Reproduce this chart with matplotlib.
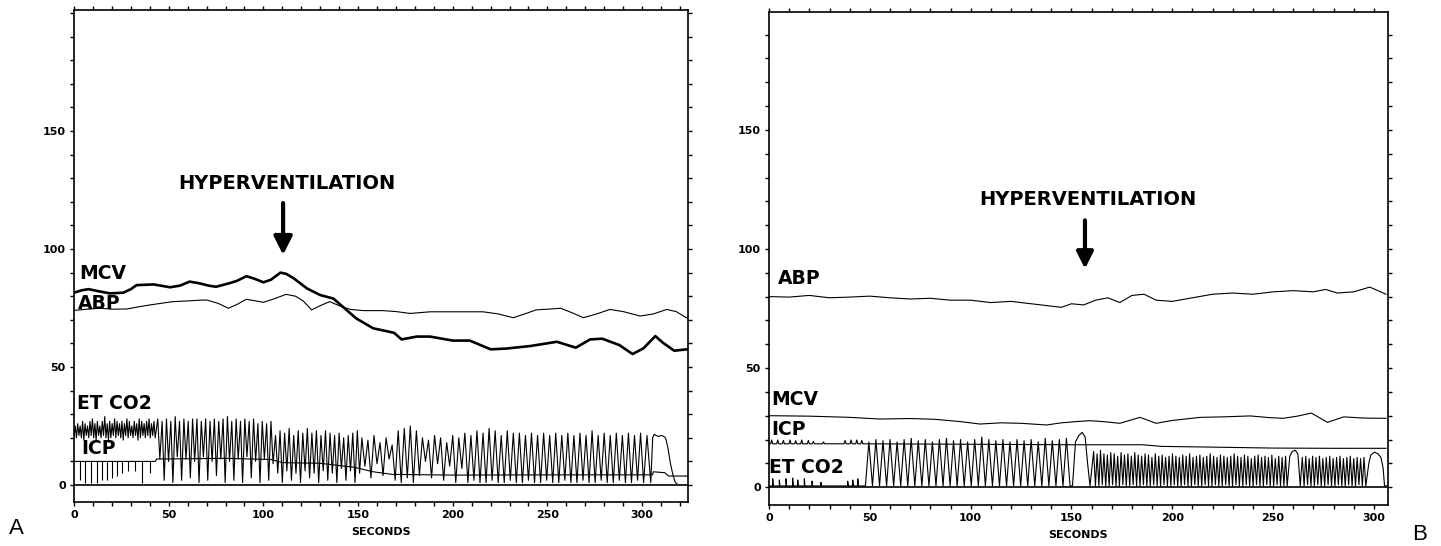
import matplotlib
matplotlib.use("Agg")
import matplotlib.pyplot as plt
from matplotlib.ticker import MultipleLocator

# ============================================================
# Panel A data (seconds, value)
# ============================================================
mcv_a_t = [0, 4, 7.6, 13.7, 19, 26, 30, 33, 42, 50.7, 56, 61, 66, 71, 75, 82, 86, 91, 95,
           100, 104, 109, 112, 116, 123, 130, 137, 142, 149, 158, 169, 173, 181, 188, 200,
           209, 220, 228, 241, 255, 265, 272.6, 279, 288, 295, 300.7, 307, 311, 317, 323.6]
mcv_a_v = [81.5, 82.5, 83, 82, 81.2, 81.5, 83, 84.7, 85, 83.8, 84.5, 86.2, 85.5, 84.5, 84,
           85.5, 86.5, 88.5, 87.5, 85.9, 87, 90, 89.5, 87.6, 83.3, 80.5, 79, 75.5, 70.6, 66.4,
           64.5, 61.7, 62.9, 62.9, 61.2, 61.2, 57.5, 57.8, 58.9, 60.7, 58.2, 61.7, 62, 59.3,
           55.5, 57.9, 63.1, 60.3, 56.9, 57.5]

abp_a_t = [0, 7, 14, 20, 28, 34, 40, 46, 52, 60, 66, 70, 76, 81.5, 86, 91, 96, 100, 106,
           112, 117, 121, 125.5, 130, 135, 140, 146, 153, 163, 170, 177.5, 188, 202, 216,
           224, 232, 238, 244, 250, 257, 263, 269, 276, 283, 290, 299, 306, 313, 318, 324]
abp_a_v = [74, 74.5, 74.9, 74.5, 74.6, 75.5, 76.3, 77, 77.7, 78, 78.3, 78.4, 77, 74.9, 76.5,
           78.7, 78, 77.4, 79, 80.8, 80, 78, 74.2, 76, 77.7, 76, 74.4, 73.9, 73.9, 73.5, 72.7,
           73.4, 73.4, 73.4, 72.5, 70.9, 72.5, 74.2, 74.5, 74.9, 73, 70.9, 72.5, 74.4, 73.5,
           71.6, 72.5, 74.4, 73.5, 70.6]

icp_a_t = [0, 43, 43.5, 80, 104, 110, 130, 148, 158, 168, 200, 250, 300, 305.5, 306, 312,
           314, 324]
icp_a_v = [10, 10, 11, 11.3, 10.8, 9.5, 9.2, 7.5, 5.6, 4.5, 4.2, 4.3, 4.3, 4.3, 5.6, 5.2,
           3.8, 3.8]
icp_a_spike_t = [3.2, 5.8, 8.8, 12.0, 14.6, 17.2, 19.9, 22.5, 25.2, 28.7, 32.2, 35.8, 40.1]
icp_a_spike_v = [2, 1, 1, 1, 2, 2, 3, 4, 5, 6, 6, 1, 5]

etco2_a = [
    (0.0, 21), (0.6, 25), (1.25, 20), (1.9, 26), (2.55, 21), (3.2, 25), (3.85, 20),
    (4.5, 27), (5.15, 19), (5.8, 26), (6.45, 21), (7.1, 25), (7.75, 20), (8.4, 27),
    (9.05, 21), (9.7, 28), (10.35, 20), (11.0, 26), (11.65, 19), (12.3, 27), (12.95, 21),
    (13.6, 25), (14.25, 20), (14.9, 27), (15.55, 21), (16.2, 29), (16.85, 20), (17.5, 26),
    (18.15, 19), (18.8, 27), (19.45, 20), (20.1, 26), (20.75, 21), (21.4, 28), (22.05, 20),
    (22.7, 27), (23.35, 21), (24.0, 26), (24.65, 20), (25.3, 27), (25.95, 19), (26.6, 26),
    (27.25, 21), (27.9, 28), (28.55, 20), (29.2, 27), (29.85, 21), (30.5, 25), (31.15, 20),
    (31.8, 27), (32.45, 21), (33.1, 26), (33.75, 19), (34.4, 28), (35.05, 20), (35.7, 27),
    (36.35, 21), (37.0, 26), (37.65, 20), (38.3, 27), (38.95, 21), (39.6, 28), (40.25, 20),
    (40.9, 26), (41.55, 21), (42.2, 27), (42.85, 20),
    (44.2, 28), (45.3, 11), (46.5, 27), (47.6, 2), (48.8, 28), (49.9, 10), (51.1, 27),
    (52.2, 1), (53.4, 29), (54.5, 12), (55.7, 27), (56.8, 2), (58.0, 28), (59.1, 11),
    (60.3, 27), (61.4, 3), (62.6, 28), (63.7, 10), (64.9, 28), (66.0, 1), (67.2, 27),
    (68.3, 12), (69.5, 28), (70.6, 2), (71.8, 27), (72.9, 10), (74.1, 28), (75.2, 4),
    (76.4, 27), (77.5, 11), (78.7, 28), (79.8, 1), (81.0, 29), (82.1, 10), (83.3, 27),
    (84.4, 2), (85.6, 28), (86.7, 11), (87.9, 27), (89.0, 1), (90.2, 28), (91.3, 12),
    (92.5, 27), (93.6, 3), (94.8, 28), (95.9, 10), (97.1, 26), (98.2, 1), (99.4, 27),
    (100.5, 11), (101.7, 26), (102.8, 2), (104.0, 27), (105.1, 9),
    (106.4, 21), (107.6, 5), (108.8, 23), (110.0, 1), (111.2, 22), (112.4, 6), (113.6, 24),
    (114.8, 2), (116.0, 21), (117.2, 5), (118.4, 23), (119.6, 1), (120.8, 22), (122.0, 6),
    (123.2, 24), (124.4, 3), (125.6, 22), (126.8, 5), (128.0, 23), (129.2, 1), (130.4, 21),
    (131.6, 6), (132.8, 23), (134.0, 2), (135.2, 22), (136.4, 5), (137.6, 21), (138.8, 1),
    (140.0, 22), (141.2, 7), (142.4, 20), (143.6, 2), (144.8, 21), (146.0, 6), (147.2, 22),
    (148.4, 1), (149.6, 23), (150.8, 5),
    (152.0, 20), (153.6, 8), (155.2, 19), (156.8, 3), (158.4, 21), (160.0, 9), (161.6, 18),
    (163.2, 4), (164.8, 20), (166.4, 11), (168.0, 17), (169.6, 2), (171.2, 23), (172.8, 1),
    (174.4, 24), (176.0, 3), (177.6, 25), (179.2, 1), (180.8, 23), (182.4, 4), (184.0, 20),
    (185.6, 10), (187.2, 19), (188.8, 3), (190.4, 21), (192.0, 9), (193.6, 20), (195.2, 2),
    (196.8, 18), (198.4, 8), (200.0, 21), (201.6, 1), (203.2, 20), (204.8, 7), (206.4, 22),
    (208.0, 1), (209.6, 21), (211.2, 2), (212.8, 23), (214.4, 1), (216.0, 22), (217.6, 1),
    (219.2, 24), (220.8, 2), (222.4, 23), (224.0, 1), (225.6, 21), (227.2, 1), (228.8, 23),
    (230.4, 2), (232.0, 22), (233.6, 1), (235.2, 22), (236.8, 1), (238.4, 21), (240.0, 2),
    (241.6, 22), (243.2, 1), (244.8, 21), (246.4, 1), (248.0, 22), (249.6, 2), (251.2, 21),
    (252.8, 1), (254.4, 22), (256.0, 1), (257.6, 21), (259.2, 2), (260.8, 22), (262.4, 1),
    (264.0, 21), (265.6, 1), (267.2, 22), (268.8, 2), (270.4, 21), (272.0, 1), (273.6, 23),
    (275.2, 1), (276.8, 21), (278.4, 2), (280.0, 22), (281.6, 1), (283.2, 21), (284.8, 1),
    (286.4, 22), (288.0, 2), (289.6, 21), (291.2, 1), (292.8, 22), (294.4, 1), (296.0, 21),
    (297.6, 2), (299.2, 22), (300.8, 1), (302.6, 21), (304.6, 1),
    (305.6, 20), (306.4, 21.5), (307.5, 21), (308.6, 20.5), (309.8, 21), (311.0, 20.8),
    (312.4, 20), (313.6, 16), (315.0, 9), (316.4, 4), (317.6, 1), (318.5, 0.5),
]

# ============================================================
# Panel B data
# ============================================================
abp_b_t = [0, 10, 20, 30, 40, 50, 60, 70, 80, 90, 100, 110, 120, 130, 140, 145, 150, 156,
           162, 168, 174, 180, 186, 192, 200, 210, 220, 230, 240, 250, 260, 270, 276, 282,
           290, 298, 306]
abp_b_v = [80, 79.8, 80.5, 79.5, 79.8, 80.2, 79.5, 79, 79.3, 78.5, 78.5, 77.5, 78, 77, 76,
           75.5, 77, 76.5, 78.5, 79.5, 77.5, 80.5, 81, 78.5, 78, 79.5, 81, 81.5, 81, 82, 82.5,
           82, 83, 81.5, 82, 84, 81]

mcv_b_t = [0, 20, 40, 55, 70, 82, 95, 104.6, 115, 125, 137.7, 145, 152, 159, 166, 174, 184,
           192, 200, 214, 225, 238.6, 248, 255, 262, 269, 277, 285, 295, 306]
mcv_b_v = [30, 29.8, 29.3, 28.6, 28.8, 28.5, 27.5, 26.5, 27, 26.8, 26.1, 27, 27.5, 27.9,
           27.5, 26.8, 29.3, 26.8, 28, 29.3, 29.5, 29.9, 29.2, 28.9, 29.8, 31.1, 27.2, 29.5,
           29, 28.9]

icp_b = [
    (0, 18.2), (0.8, 18.2), (1.3, 19.8), (1.8, 18.2), (3.8, 18.2), (4.3, 19.8), (4.8, 18.2),
    (6.6, 18.2), (7.1, 19.6), (7.6, 18.2), (9.9, 18.2), (10.4, 19.8), (10.9, 18.2),
    (12.7, 18.2), (13.2, 19.5), (13.7, 18.2), (15.7, 18.2), (16.2, 19.8), (16.7, 18.2),
    (19.0, 18.2), (19.5, 19.6), (20.0, 18.2), (21.5, 18.2), (22.0, 19.2), (22.5, 18.2),
    (26.5, 18.2), (27.0, 19.0), (27.5, 18.2), (37.2, 18.2), (37.7, 19.6), (38.2, 18.2),
    (40.2, 18.2), (40.7, 19.8), (41.2, 18.2), (43.0, 18.2), (43.5, 19.8), (44.0, 18.2),
    (45.5, 18.2), (46.0, 19.6), (46.5, 18.2),
    (100, 18.0), (150, 17.8), (185, 17.8), (195, 17.1), (220, 16.8), (250, 16.4),
    (280, 16.3), (306, 16.3),
]

etco2_b = [
    (0, 0.5), (1.8, 0.5), (1.8, 3.5), (2.1, 0.5), (5.1, 0.5), (5.1, 3), (5.4, 0.5),
    (8.4, 0.5), (8.4, 3.5), (8.7, 0.5), (11.7, 0.5), (11.7, 3.8), (12.0, 0.5),
    (14.2, 0.5), (14.2, 3), (14.5, 0.5), (17.5, 0.5), (17.5, 3.5), (17.8, 0.5),
    (21.3, 0.5), (21.3, 2.5), (21.6, 0.5), (25.7, 0.5), (25.7, 2), (26.0, 0.5),
    (39.0, 0.5), (39.0, 2.5), (39.3, 0.5), (41.5, 0.5), (41.5, 3), (41.8, 0.5),
    (44.0, 0.5), (44.0, 3.5), (44.3, 0.5), (47.8, 0.5),
    (49.5, 19), (51.3, 0.5), (53.0, 20), (54.8, 0.5), (56.5, 19.5), (58.3, 0.5), (60.0, 20),
    (61.8, 0.5), (63.5, 19), (65.3, 0.5), (67.0, 20), (68.8, 0.5), (70.5, 20.5), (72.3, 0.5),
    (74.0, 19.5), (75.8, 0.5), (77.5, 20), (79.3, 0.5), (81.0, 19), (82.8, 0.5), (84.5, 20),
    (86.3, 0.5), (88.0, 20.5), (89.8, 0.5), (91.5, 19.5), (93.3, 0.5), (95.0, 20),
    (96.8, 0.5), (98.5, 19), (100.3, 0.5), (102.0, 20), (103.8, 0.5), (105.5, 21),
    (107.3, 0.5), (109.0, 20), (110.8, 0.5), (112.5, 19.5), (114.3, 0.5), (116.0, 20),
    (117.8, 0.5), (119.5, 19), (121.3, 0.5), (123.0, 20), (124.8, 0.5), (126.5, 19.5),
    (128.3, 0.5), (130.0, 20), (131.8, 0.5), (133.5, 19), (135.3, 0.5), (137.0, 20.5),
    (138.8, 0.5), (140.5, 19.5), (142.3, 0.5), (144.0, 20), (145.8, 0.5), (147.5, 20.5),
    (149.3, 0.5), (150.5, 0.5),
    (152.0, 19), (153.5, 21.5), (155.3, 23), (156.8, 21), (158.0, 10), (159.2, 0.5),
    (161.0, 15), (161.9, 0.5), (162.7, 14), (163.6, 0.5), (164.4, 15.5), (165.3, 1),
    (166.1, 14), (167.0, 0.5), (167.8, 13.5), (168.7, 0.5), (169.5, 14.5), (170.4, 1),
    (171.2, 14), (172.1, 0.5), (172.9, 13), (173.8, 0.5), (174.6, 14.5), (175.5, 1),
    (176.3, 13.5), (177.2, 0.5), (178.0, 14), (178.9, 0.5), (179.7, 13), (180.6, 1),
    (181.4, 14.5), (182.3, 0.5), (183.1, 13.5), (184.0, 0.5), (184.8, 13), (185.7, 1),
    (186.5, 14), (187.4, 0.5), (188.2, 13.5), (189.1, 0.5), (189.9, 12.5), (190.8, 1),
    (191.6, 14), (192.5, 0.5), (193.3, 13), (194.2, 0.5), (195.0, 13.5), (195.9, 1),
    (196.7, 12.5), (197.6, 0.5), (198.4, 13), (199.3, 0.5), (200.1, 14), (201.0, 1),
    (201.8, 13), (202.7, 0.5), (203.5, 12.5), (204.4, 0.5), (205.2, 13.5), (206.1, 1),
    (206.9, 13), (207.8, 0.5), (208.6, 14), (209.5, 0.5), (210.3, 12.5), (211.2, 1),
    (212.0, 13), (212.9, 0.5), (213.7, 13.5), (214.6, 0.5), (215.4, 12.5), (216.3, 1),
    (217.1, 13), (218.0, 0.5), (218.8, 14), (219.7, 0.5), (220.5, 13), (221.4, 1),
    (222.2, 12.5), (223.1, 0.5), (223.9, 13.5), (224.8, 0.5), (225.6, 13), (226.5, 1),
    (227.3, 12.5), (228.2, 0.5), (229.0, 13), (229.9, 0.5), (230.7, 14), (231.6, 1),
    (232.4, 13), (233.3, 0.5), (234.1, 12.5), (235.0, 0.5), (235.8, 13.5), (236.7, 1),
    (237.5, 13), (238.4, 0.5), (239.2, 12), (240.1, 0.5), (240.9, 13), (241.8, 1),
    (242.6, 13.5), (243.5, 0.5), (244.3, 12.5), (245.2, 0.5), (246.0, 13), (246.9, 1),
    (247.7, 12.5), (248.6, 0.5), (249.4, 13.5), (250.3, 0.5), (251.1, 12), (252.0, 1),
    (252.8, 13), (253.7, 0.5), (254.5, 12.5), (255.4, 0.5), (256.2, 13), (257.0, 0.5),
    (258.3, 13), (259.5, 15), (261.0, 15.5), (262.3, 14), (263.5, 0.5),
    (264.5, 12.5), (265.4, 0.5), (266.2, 13), (267.1, 1), (267.9, 12), (268.8, 0.5),
    (269.6, 13), (270.5, 0.5), (271.3, 12.5), (272.2, 1), (273.0, 13), (273.9, 0.5),
    (274.7, 12), (275.6, 0.5), (276.4, 12.5), (277.3, 1), (278.1, 13), (279.0, 0.5),
    (279.8, 12), (280.7, 0.5), (281.5, 12.5), (282.4, 1), (283.2, 13), (284.1, 0.5),
    (284.9, 12), (285.8, 0.5), (286.6, 12.5), (287.5, 1), (288.3, 13), (289.2, 0.5),
    (290.0, 12), (290.9, 0.5), (291.7, 12.5), (292.6, 1), (293.4, 12), (294.3, 0.5),
    (295.1, 12.5), (296.0, 0.5),
    (297.5, 10), (298.5, 13.5), (300.3, 14.7), (302.0, 14), (303.5, 12.5), (304.6, 8),
    (305.3, 0.5), (306.5, 0.5),
]

# ============================================================
# Plot
# ============================================================
TICK_FONT = dict(fontsize=8, fontweight='bold', family='DejaVu Sans')
LABEL_FONT = dict(fontsize=13.5, fontweight='bold', family='DejaVu Sans')
THIN = 0.8


def style_axes(ax, xmax, ylim):
    ax.set_xlim(0, xmax)
    ax.set_ylim(*ylim)
    ax.set_xticks([0, 50, 100, 150, 200, 250, 300])
    ax.set_yticks([0, 50, 100, 150])
    ax.xaxis.set_minor_locator(MultipleLocator(10))
    ax.yaxis.set_minor_locator(MultipleLocator(10))
    ax.tick_params(which='both', direction='out', top=True, right=True,
                   length=3, width=1.0, pad=3)
    for lab in ax.get_xticklabels() + ax.get_yticklabels():
        lab.set_fontsize(TICK_FONT['fontsize'])
        lab.set_fontweight('bold')
    for sp in ax.spines.values():
        sp.set_linewidth(1.2)
    ax.axhline(0, color='black', lw=1.2)
    ax.set_xlabel('SECONDS', labelpad=5, **TICK_FONT)


fig = plt.figure(figsize=(14.41, 5.46), dpi=100)

# --- Panel A ---
ax1 = fig.add_axes([0.0514, 0.0806, 0.4261, 0.9011])
style_axes(ax1, 324.3, (-7.2, 201.3))
t, v = zip(*etco2_a)
ax1.plot(t, v, color='black', lw=THIN)
ax1.plot(icp_a_t, icp_a_v, color='black', lw=THIN)
ax1.vlines(icp_a_spike_t, icp_a_spike_v, 10, color='black', lw=THIN)
ax1.plot(abp_a_t, abp_a_v, color='black', lw=THIN)
ax1.plot(mcv_a_t, mcv_a_v, color='black', lw=1.9)

ax1.text(3, 89.8, 'MCV', ha='left', va='center', **LABEL_FONT)
ax1.text(1.8, 76.8, 'ABP', ha='left', va='center', **LABEL_FONT)
ax1.text(1.8, 34.4, 'ET CO2', ha='left', va='center', **LABEL_FONT)
ax1.text(4, 15.4, 'ICP', ha='left', va='center', **LABEL_FONT)

ax1.text(112.3, 127.8, 'HYPERVENTILATION', ha='center', va='center',
         fontsize=14, fontweight='bold', family='DejaVu Sans')
ax1.annotate('', xy=(110.4, 97.5), xytext=(110.4, 119.5),
             arrowprops=dict(arrowstyle='-|>,head_width=0.55,head_length=1.1',
                             color='black', lw=3, shrinkA=0, shrinkB=0))

# --- Panel B ---
ax2 = fig.add_axes([0.5337, 0.0751, 0.4295, 0.9029])
style_axes(ax2, 307, (-7.5, 199.5))
t, v = zip(*etco2_b)
ax2.plot(t, v, color='black', lw=THIN)
t, v = zip(*icp_b)
ax2.plot(t, v, color='black', lw=THIN)
ax2.plot(mcv_b_t, mcv_b_v, color='black', lw=THIN)
ax2.plot(abp_b_t, abp_b_v, color='black', lw=THIN)

ax2.text(4.5, 87.5, 'ABP', ha='left', va='center', **LABEL_FONT)
ax2.text(1.3, 36.7, 'MCV', ha='left', va='center', **LABEL_FONT)
ax2.text(1.3, 24.2, 'ICP', ha='left', va='center', **LABEL_FONT)
ax2.text(0.2, 8.3, 'ET CO2', ha='left', va='center', **LABEL_FONT)

ax2.text(157.9, 120.6, 'HYPERVENTILATION', ha='center', va='center',
         fontsize=14, fontweight='bold', family='DejaVu Sans')
ax2.annotate('', xy=(156.7, 91.7), xytext=(156.7, 112),
             arrowprops=dict(arrowstyle='-|>,head_width=0.5,head_length=1.0',
                             color='black', lw=3, shrinkA=0, shrinkB=0))

fig.text(16 / 1441, 1 - 529 / 546, 'A', fontsize=16, family='Liberation Sans',
         ha='center', va='center')
fig.text(1420 / 1441, 1 - 534 / 546, 'B', fontsize=16, family='Liberation Sans',
         ha='center', va='center')

fig.savefig('out.png', dpi=100)
